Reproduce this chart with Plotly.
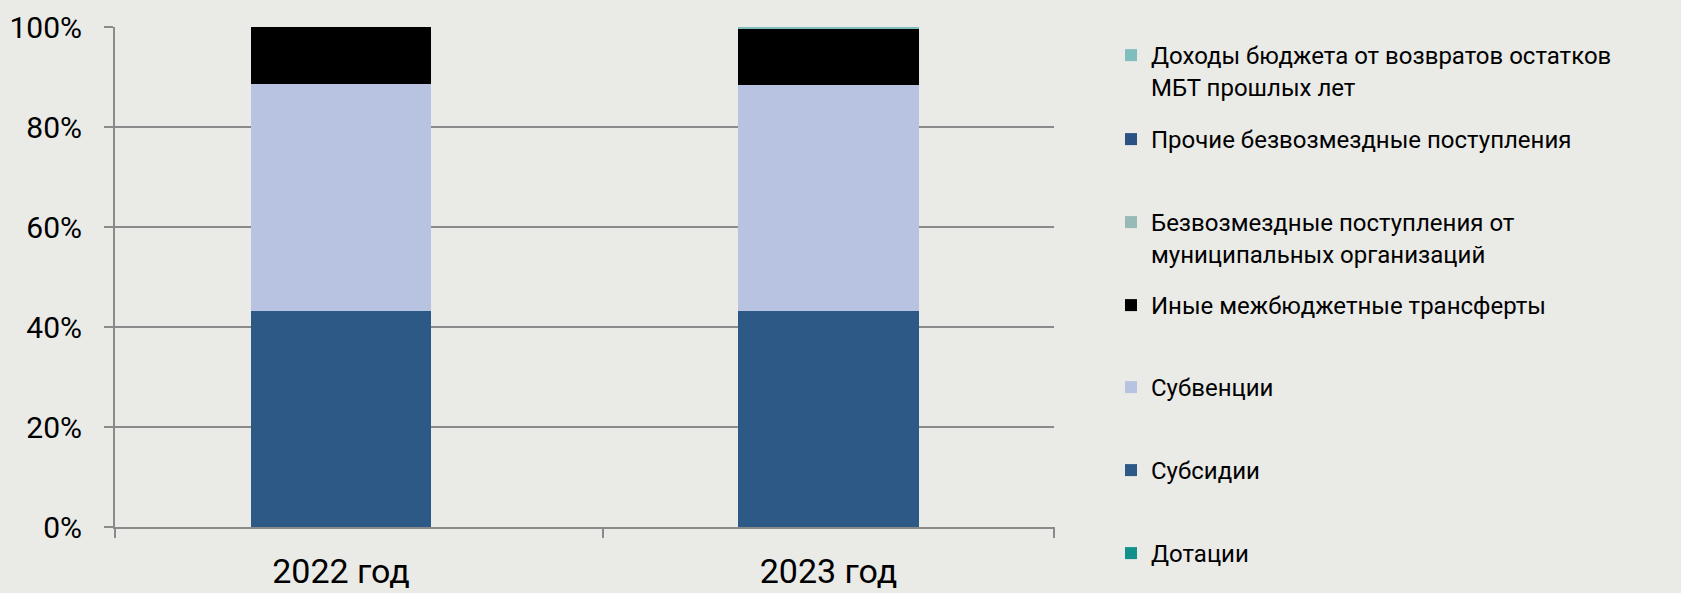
import plotly.graph_objects as go

categories = ["2022 год", "2023 год"]

series_names = [
    "Дотации",
    "Субсидии",
    "Субвенции",
    "Иные межбюджетные трансферты",
    "Безвозмездные поступления от<br>муниципальных организаций",
    "Прочие безвозмездные поступления",
    "Доходы бюджета от возвратов остатков<br>МБТ прошлых лет",
]
dotacii = [0.0, 0.0]
subsidii = [43.3, 43.3]
subvencii = [45.4, 45.2]
inye = [11.3, 11.2]
bezvozm_mun = [0.0, 0.0]
prochie = [0.0, 0.0]
dohody_vozvrat = [0.0, 0.3]

series_values = [dotacii, subsidii, subvencii, inye, bezvozm_mun, prochie, dohody_vozvrat]
colors = ["#12908C", "#2D5987", "#B8C3E1", "#000000", "#97BAB9", "#2C5283", "#80BEBE"]

y_tickvals = [0, 20, 40, 60, 80, 100]
y_ticktext = ["0%", "20%", "40%", "60%", "80%", "100%"]

W, H = 1681, 593
ml, mr, mt, mb = 115, 627, 27, 66
BG = "#EAEAE7"

fig = go.Figure()
legend_ids = ["legend7", "legend6", "legend5", "legend4", "legend3", "legend2", "legend"]
for name, vals, col, lg in zip(series_names, series_values, colors, legend_ids):
    fig.add_trace(go.Bar(
        x=[0, 1], y=vals, name=name, marker=dict(color=col, line=dict(width=0)),
        width=0.371, legend=lg, showlegend=True,
    ))

font_family = "Roboto, 'Open Sans', sans-serif"
leg_font = dict(family=font_family, size=24, color="#000000")
# first-line centers of legend entries (pixels from top)
leg_y_px = [55, 139, 222, 305, 387, 470, 553]
legend_layouts = {}
for i, lid in enumerate(["legend", "legend2", "legend3", "legend4", "legend5", "legend6", "legend7"]):
    legend_layouts[lid] = dict(
        xref="container", yref="container",
        x=1111 / W, y=1 - (leg_y_px[i] - 22) / H,
        xanchor="left", yanchor="top",
        bgcolor="rgba(0,0,0,0)", borderwidth=0,
        font=leg_font, valign="top", itemclick=False, visible=True,
    )

grid_col = "#8A8A8A"
x_left, x_right = -0.4636, 1.4626
tick_len_frac = 11 / (H - mt - mb)
shapes = []
for xd in [0.0, (603 - ml) / (W - ml - mr), 1.0]:
    shapes.append(dict(type="line", xref="x domain", yref="paper",
                       x0=xd, x1=xd, y0=0, y1=-tick_len_frac,
                       line=dict(color=grid_col, width=2)))

fig.update_layout(
    width=W, height=H,
    margin=dict(l=ml, r=mr, t=mt, b=mb, pad=0, autoexpand=False),
    paper_bgcolor=BG,
    plot_bgcolor="rgba(0,0,0,0)",
    barmode="stack",
    bargap=0,
    showlegend=True,
    font=dict(family=font_family, color="#000000"),
    xaxis=dict(
        range=[x_left, x_right], tickvals=[0, 1], ticktext=categories,
        showgrid=False, zeroline=False, showline=True, linecolor=grid_col, linewidth=2,
        ticks="", tickfont=dict(size=34, family=font_family, color="#000000"),
        ticklabelstandoff=13,
    ),
    yaxis=dict(
        range=[0, 100], tickvals=y_tickvals, ticktext=y_ticktext,
        showgrid=True, gridcolor=grid_col, gridwidth=2, zeroline=False,
        showline=True, linecolor=grid_col, linewidth=2,
        ticks="outside", ticklen=9, tickwidth=2, tickcolor=grid_col,
        tickfont=dict(size=30, family=font_family, color="#000000"),
        ticklabelstandoff=16,
    ),
    shapes=shapes,
    **legend_layouts,
)

fig.write_html(
    "out.html",
    config={"displayModeBar": False},
    post_script="document.body.style.margin='0px';document.body.style.background='" + BG + "';",
)
